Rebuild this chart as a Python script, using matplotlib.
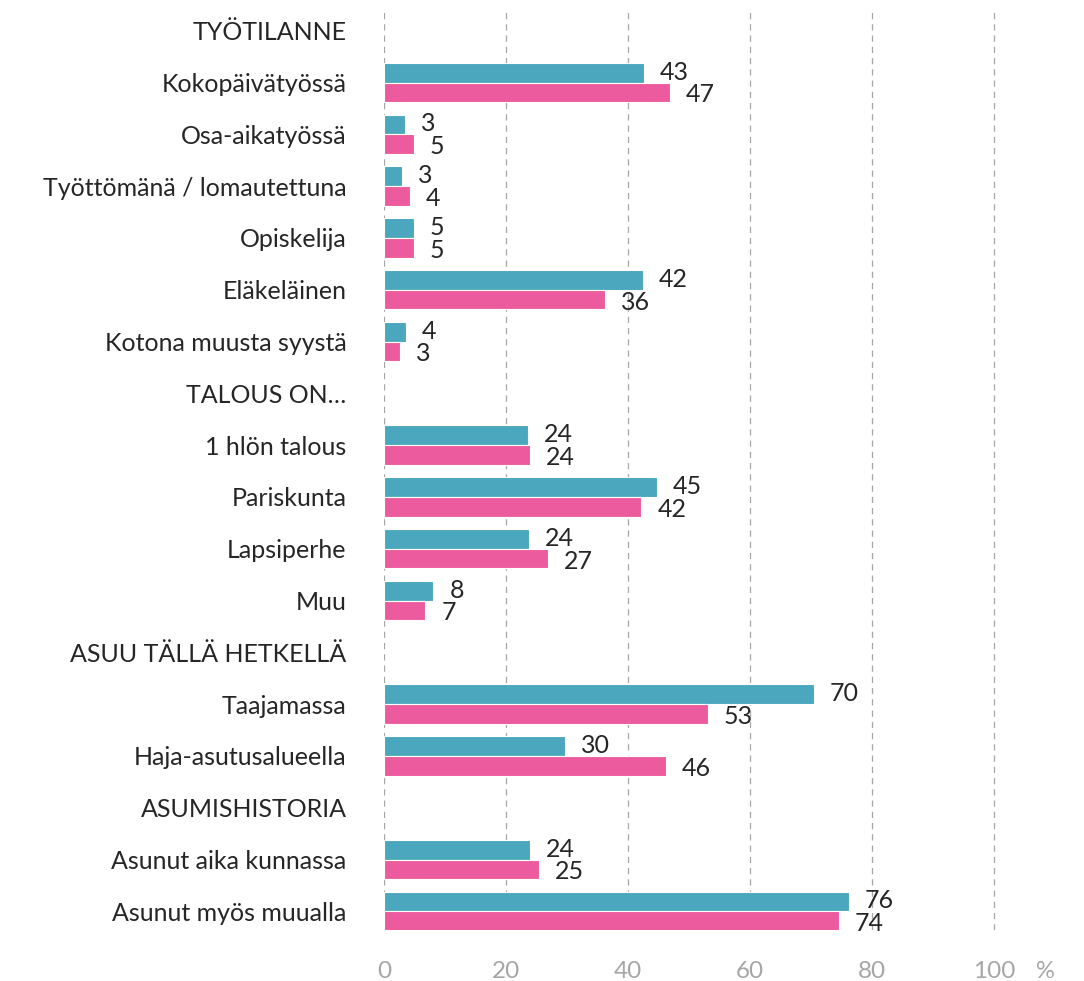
import matplotlib.pyplot as plt
import numpy as np

plt.rcParams['font.family'] = ['Lato', 'DejaVu Sans']

categories = ['TYÖTILANNE', 'Kokopäivätyössä', 'Osa-aikatyössä', 'Työttömänä / lomautettuna',
              'Opiskelija', 'Eläkeläinen', 'Kotona muusta syystä', 'TALOUS ON…',
              '1 hlön talous', 'Pariskunta', 'Lapsiperhe', 'Muu', 'ASUU TÄLLÄ HETKELLÄ',
              'Taajamassa', 'Haja-asutusalueella', 'ASUMISHISTORIA',
              'Asunut aika kunnassa', 'Asunut myös muualla']
# None = section header row (no bars)
teal = [None, 42.6, 3.4, 2.9, 4.9, 42.4, 3.6, None, 23.6, 44.8, 23.7, 8.1, None,
        70.4, 29.6, None, 23.9, 76.2]
pink = [None, 46.8, 4.9, 4.3, 4.9, 36.2, 2.7, None, 23.9, 42.2, 26.9, 6.8, None,
        53.1, 46.2, None, 25.4, 74.5]
teal_lbl = ['', '43', '3', '3', '5', '42', '4', '', '24', '45', '24', '8', '', '70', '30', '', '24', '76']
pink_lbl = ['', '47', '5', '4', '5', '36', '3', '', '24', '42', '27', '7', '', '53', '46', '', '25', '74']

c_teal = '#4BA7BE'
c_pink = '#EC5B9E'

fig = plt.figure(figsize=(10.84, 9.81), dpi=100)
ax = fig.add_axes([384 / 1084, 1 - 930 / 981, 612 / 1084, 920 / 981])

y = np.arange(len(categories))
h = 0.38
for i in range(len(categories)):
    if teal[i] is None:
        continue
    ax.barh(y[i] - h / 2, teal[i], height=h, color=c_teal, edgecolor='white', linewidth=0.8, zorder=3)
    ax.barh(y[i] + h / 2, pink[i], height=h, color=c_pink, edgecolor='white', linewidth=0.8, zorder=3)
    ax.text(teal[i] + 2.6, y[i] - h / 2 - 0.01, teal_lbl[i], va='center', ha='left',
            fontsize=18, color='#262626')
    ax.text(pink[i] + 2.6, y[i] + h / 2 + 0.05, pink_lbl[i], va='center', ha='left',
            fontsize=18, color='#262626')

ax.set_ylim(len(categories) - 1 + 0.36, -0.4)
ax.set_xlim(0, 100.3)
ax.set_yticks(y)
ax.set_yticklabels(categories, fontsize=18, color='#262626')
ax.set_xticks([0, 20, 40, 60, 80, 100])
ax.tick_params(axis='x', labelsize=17.5, labelcolor='#A6A6A6', length=0, pad=22)
ax.tick_params(axis='y', length=0, pad=27)
ax.grid(axis='x', color='#A6A6A6', linestyle=(0, (5, 4)), linewidth=0.9, zorder=0)
for s in ax.spines.values():
    s.set_visible(False)
fig.text(1045 / 1084, 1 - 971 / 981, '%', fontsize=17, color='#A6A6A6', ha='center', va='center')

fig.savefig('out.png', dpi=100)
